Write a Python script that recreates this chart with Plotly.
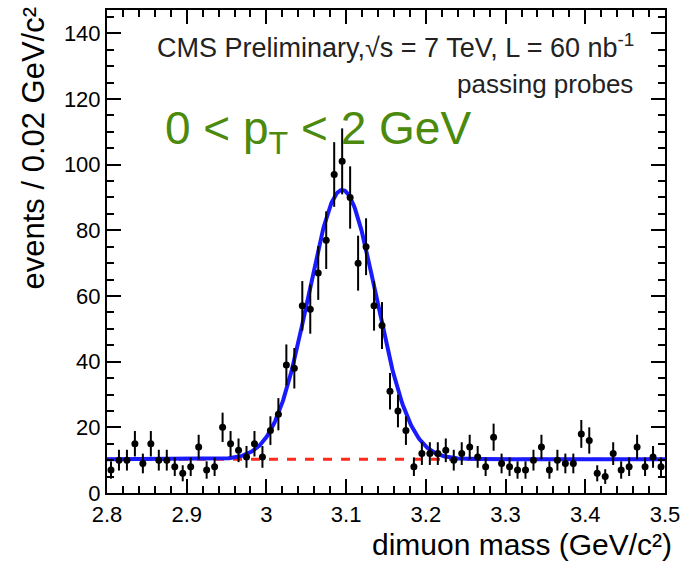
import numpy as np
import plotly.graph_objects as go

# Dimuon invariant mass spectrum, passing probes, 0 < pT < 2 GeV
mass_lo = 2.80
bin_width = 0.01
counts = [
    7, 10, 10, 15, 9, 15, 10, 10, 8, 6,
    8, 14, 7, 8, 20, 15, 13, 11, 15, 11,
    19, 24, 39, 38, 57, 56, 67, 77, 97, 101,
    90, 70, 75, 57, 51, 31, 25, 19, 8, 12,
    12, 12, 13, 10, 12, 14, 11, 8, 17, 9,
    8, 7, 7, 10, 14, 7, 10, 9, 9, 18,
    16, 6, 5, 12, 7, 8, 14, 8, 11, 8,
]
bin_centers = [mass_lo + bin_width * (i + 0.5) for i in range(len(counts))]
errors = [float(np.sqrt(c)) for c in counts]

# Signal + background fit parameters (Gaussian peak on a flat background)
fit_background = 10.3
fit_amplitude = 82.0
fit_mean = 3.095
fit_sigma = 0.0425

x_fit = np.linspace(2.8, 3.5, 701)
y_bkg = np.full_like(x_fit, fit_background)
y_fit = fit_background + fit_amplitude * np.exp(-0.5 * ((x_fit - fit_mean) / fit_sigma) ** 2)

FONT = "Liberation Sans, Arial, Helvetica, sans-serif"

fig = go.Figure()

fig.add_trace(go.Scatter(
    x=x_fit, y=y_bkg, mode="lines",
    line=dict(color="#ff2a1a", width=3, dash="dash"),
    hoverinfo="skip", showlegend=False,
))
fig.add_trace(go.Scatter(
    x=x_fit, y=y_fit, mode="lines",
    line=dict(color="#1a1aff", width=4),
    hoverinfo="skip", showlegend=False,
))
fig.add_trace(go.Scatter(
    x=bin_centers, y=counts, mode="markers",
    marker=dict(color="black", size=7),
    error_y=dict(type="data", array=errors, visible=True,
                 color="black", thickness=2, width=0),
    showlegend=False,
))

axis_common = dict(
    showline=True, linecolor="black", linewidth=2, mirror="allticks",
    ticks="inside", ticklen=14, tickwidth=2, tickcolor="black",
    showgrid=False, zeroline=False,
    tickfont=dict(family=FONT, size=22, color="black"),
)

fig.update_xaxes(
    range=[2.8, 3.5], tickvals=[2.8, 2.9, 3.0, 3.1, 3.2, 3.3, 3.4, 3.5],
    ticktext=["2.8", "2.9", "3", "3.1", "3.2", "3.3", "3.4", "3.5"],
    minor=dict(dtick=0.02, tick0=2.8, ticks="inside", ticklen=7,
               tickwidth=2, tickcolor="black", showgrid=False),
    ticklabelstandoff=1,
    **axis_common,
)
fig.update_yaxes(
    range=[0, 147.1], tickvals=[0, 20, 40, 60, 80, 100, 120, 140],
    minor=dict(dtick=5, tick0=0, ticks="inside", ticklen=7,
               tickwidth=2, tickcolor="black", showgrid=False),
    **axis_common,
)

annotations = [
    dict(text="events / 0.02 GeV/c²", x=-0.132, y=1.011,
         xref="paper", yref="paper", xanchor="center", yanchor="top",
         textangle=-90, showarrow=False,
         font=dict(family=FONT, size=31, color="black")),
    dict(text="dimuon mass (GeV/c²)", x=1.016, y=-0.106,
         xref="paper", yref="paper", xanchor="right", yanchor="middle",
         showarrow=False, font=dict(family=FONT, size=30, color="black")),
    dict(text="CMS Preliminary,√s = 7 TeV, L = 60 nb<sup>-1</sup>", x=0.948, y=0.926,
         xref="paper", yref="paper", xanchor="right", yanchor="middle",
         showarrow=False, font=dict(family=FONT, size=27, color="#222222")),
    dict(text="passing probes", x=0.947, y=0.846,
         xref="paper", yref="paper", xanchor="right", yanchor="middle",
         showarrow=False, font=dict(family=FONT, size=26, color="#222222")),
    dict(text="0 < p<sub>T</sub> < 2 GeV", x=0.0998, y=0.749,
         xref="paper", yref="paper", xanchor="left", yanchor="middle",
         showarrow=False, font=dict(family=FONT, size=46, color="#4b8a0c")),
]

fig.update_layout(
    width=688, height=566,
    margin=dict(l=107, r=20, t=8, b=73),
    paper_bgcolor="white", plot_bgcolor="white",
    annotations=annotations,
    showlegend=False,
)

fig.write_html("out.html")
